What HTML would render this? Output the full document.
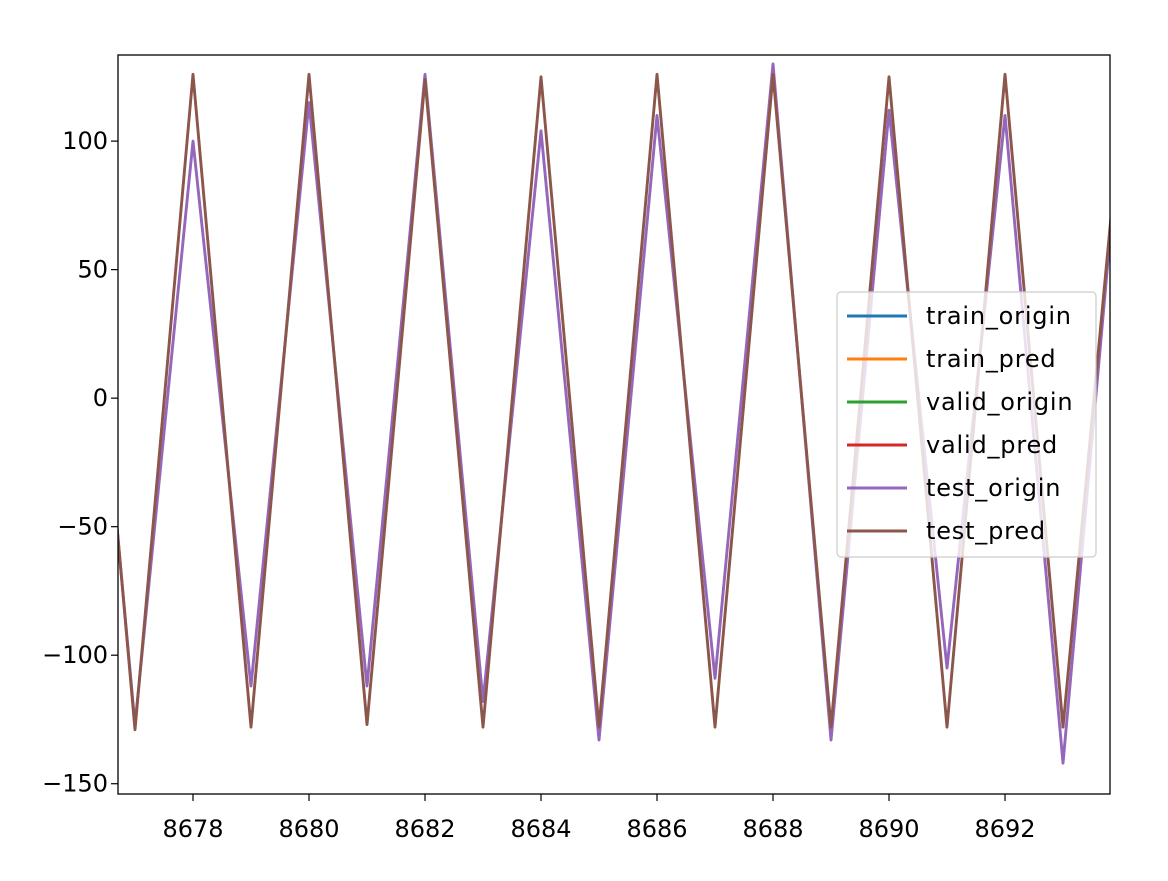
<!DOCTYPE html>
<html><head><meta charset="utf-8"><style>
body{margin:0;background:#fff;}
svg text{font-family:"DejaVu Sans","Liberation Sans",sans-serif;font-size:24px;fill:#000;}
</style></head><body>
<svg id="chart" width="1168" height="876" xmlns="http://www.w3.org/2000/svg">
<defs><clipPath id="clip"><rect x="118" y="55" width="992" height="739"/></clipPath></defs>
<g id="series" clip-path="url(#clip)"></g>
<rect x="118" y="55" width="992" height="739" fill="none" stroke="#000" stroke-width="1.3"/>
<g id="xticks"></g>
<g id="yticks"></g>
<g id="legend"></g>
</svg>
<script>
const xValues = [8676,8677,8678,8679,8680,8681,8682,8683,8684,8685,8686,8687,8688,8689,8690,8691,8692,8693,8694];
const testOrigin = [120,-127,100,-112,115,-112,126,-118,104,-133,110,-109,130,-133,112,-105,110,-142,110];
const testPred = [126,-129,126,-128,126,-127,124,-128,125,-128,126,-128,126,-128,125,-128,126,-128,112];
const xTicks = [8678,8680,8682,8684,8686,8688,8690,8692];
const yTicks = [100,50,0,-50,-100,-150];
const legendLabels = ["train_origin","train_pred","valid_origin","valid_pred","test_origin","test_pred"];
const legendColors = ["#1f77b4","#ff7f0e","#2ca02c","#d62728","#9467bd","#8c564b"];
const NS="http://www.w3.org/2000/svg";
const xMin=8676.707,xMax=8693.81,px0=118,px1=1110;
const yMin=-154,yMax=133.5,py0=794,py1=55;
const X=v=>px0+(v-xMin)/(xMax-xMin)*(px1-px0);
const Y=v=>py0-(v-yMin)/(yMax-yMin)*(py0-py1);
function mk(t,a,p){const e=document.createElementNS(NS,t);for(const k in a)e.setAttribute(k,a[k]);p.appendChild(e);return e;}
const g=document.getElementById('series');
[[testOrigin,legendColors[4],'test-origin-line'],[testPred,legendColors[5],'test-pred-line']].forEach(([d,c,n])=>{
 const l=mk('polyline',{points:d.map((v,i)=>X(xValues[i])+','+Y(v)).join(' '),fill:'none',stroke:c,'stroke-width':2.9,'stroke-linejoin':'round'},g);
 
 
});
const xg=document.getElementById('xticks');
xTicks.forEach(t=>{
 mk('line',{x1:X(t),x2:X(t),y1:794,y2:801,stroke:'#000','stroke-width':1.2},xg);
 const tx=mk('text',{x:X(t),y:837,'text-anchor':'middle'},xg);tx.textContent=t;
 
 
});
const yg=document.getElementById('yticks');
yTicks.forEach(t=>{
 mk('line',{x1:111,x2:118,y1:Y(t),y2:Y(t),stroke:'#000','stroke-width':1.2},yg);
 const tx=mk('text',{x:108,y:Y(t)+8,'text-anchor':'end'},yg);tx.textContent=(t<0?'\u2212'+(-t):t);
 
 
});
const lg=document.getElementById('legend');
mk('rect',{x:837,y:292,width:259,height:265,rx:4,fill:'#fff','fill-opacity':0.8,stroke:'#ccc','stroke-width':1.2},lg);
legendLabels.forEach((lab,i)=>{
 const y=316+i*43;
 const ln=mk('line',{x1:847,x2:907,y1:y,y2:y,stroke:legendColors[i],'stroke-width':2.9},lg);
 
 
 const tx=mk('text',{x:926,y:y+8,'letter-spacing':'0.8'},lg);tx.textContent=lab;
 
 
});
</script>
</body></html>
